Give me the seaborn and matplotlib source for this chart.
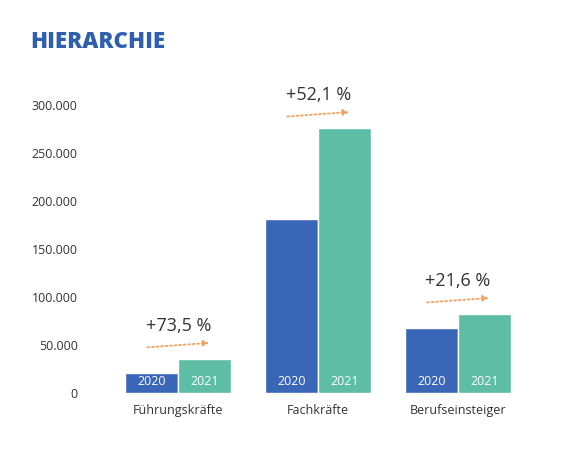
import matplotlib
matplotlib.use("Agg")
import matplotlib.pyplot as plt
import seaborn as sns
import pandas as pd

categories = ["Führungskräfte", "Fachkräfte", "Berufseinsteiger"]
years = ["2020", "2021"]
values_2020 = [20500, 181500, 67700]
values_2021 = [35500, 276000, 82300]
growth_labels = ["+73,5 %", "+52,1 %", "+21,6 %"]
tick_values = [0, 50000, 100000, 150000, 200000, 250000, 300000]
tick_labels = ["0", "50.000", "100.000", "150.000", "200.000", "250.000", "300.000"]

df = pd.DataFrame({
    "cat": categories * 2,
    "year": ["2020"] * 3 + ["2021"] * 3,
    "value": values_2020 + values_2021,
})

sns.set_style("white")
plt.rcParams["font.family"] = ["Open Sans", "DejaVu Sans"]

fig = plt.figure(figsize=(5.64, 4.55), dpi=100)
ax = fig.add_axes([0.17, 0.136, 0.766, 0.675])
sns.barplot(data=df, x="cat", y="value", hue="year", hue_order=years,
            palette=["#3a66b7", "#5dbda5"], width=0.76, gap=0.0,
            saturation=1, ax=ax, legend=False)

ax.set_ylim(0, 320000)
ax.set_yticks(tick_values)
ax.set_yticklabels(tick_labels, fontsize=9, color="#333333")
ax.tick_params(axis="y", length=7, color="#999999", pad=6)
ax.tick_params(axis="x", length=0, labelsize=9, labelcolor="#333333", pad=8)
ax.set_xlabel("")
ax.set_ylabel("")
ax.set_xlim(-0.59, 2.5)
for s in ax.spines.values():
    s.set_visible(False)

for i, (a, b) in enumerate(zip(values_2020, values_2021)):
    ax.text(i - 0.19, 5000, "2020", color="white", ha="center", va="bottom", fontsize=9)
    ax.text(i + 0.19, 5000, "2021", color="white", ha="center", va="bottom", fontsize=9)
    top = max(a, b)
    ax.annotate("", xy=(i + 0.24, top + 17000), xytext=(i - 0.24, top + 12000),
                arrowprops=dict(arrowstyle="-|>", color="#f0a060", ls=(0, (1, 1.5)),
                                lw=1.3, mutation_scale=8))
    ax.text(i, top + 25000, growth_labels[i], ha="center", va="bottom",
            fontsize=13, color="#333333")

fig.text(0.053, 0.895, "HIERARCHIE", fontsize=16, fontweight="heavy", color="#2f5fae")

fig.savefig("out.png", dpi=100, facecolor="white")
